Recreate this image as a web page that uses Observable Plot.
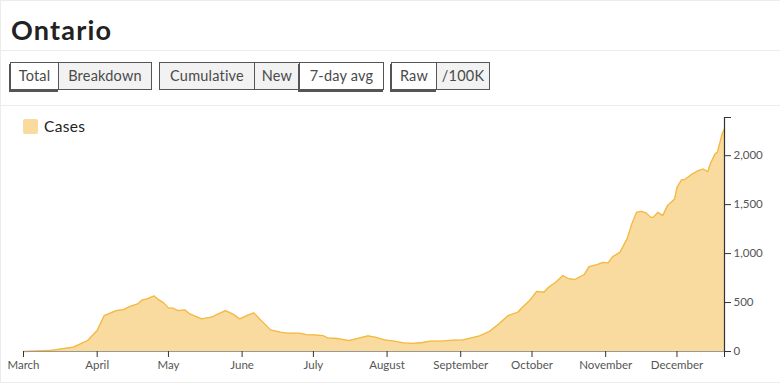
<!DOCTYPE html>
<html>
<head>
<meta charset="utf-8">
<script src="https://cdn.jsdelivr.net/npm/d3@7"></script>
<script src="https://cdn.jsdelivr.net/npm/@observablehq/plot@0.6"></script>
<style>
  html, body { margin: 0; padding: 0; background: #fff; }
  body { width: 780px; height: 385px; overflow: hidden; font-family: Lato, "Open Sans", sans-serif; }
  #card { position: absolute; left: 0; top: 0; width: 790px; height: 383px; border-top: 1px solid #ececec; border-left: 1px solid #ececec; border-bottom: 1px solid #ececec; box-sizing: border-box; }
  #title { position: absolute; left: 11px; top: 13px; font-size: 27px; font-weight: 700; color: #222; letter-spacing: 1.2px; }
  .hr { position: absolute; left: 0; width: 790px; height: 0; border-top: 1px solid #ececec; }
  .btn { position: absolute; top: 62px; height: 28px; box-sizing: border-box; border: 1px solid #555; background: #f2f2f2; color: #4a4a4a; font-size: 14.5px; line-height: 26px; text-align: center; letter-spacing: 0.2px; }
  .btn.sel { background: #fff; box-shadow: -1px 2px 0 #555; height: 28px; }
  #legend { position: absolute; left: 23px; top: 117px; font-size: 15.5px; color: #222; display: flex; align-items: center; letter-spacing: 0.3px; }
  #legend .sw { width: 15px; height: 15px; border-radius: 2px; margin-right: 6px; }
  #chart { position: absolute; left: 0; top: 106px; }
</style>
</head>
<body>
<div id="card"></div>
<div id="title">Ontario</div>
<div class="hr" style="top:50px"></div>
<div class="hr" style="top:105px"></div>
<div id="buttons"></div>
<div id="chart"></div>
<div id="legend"></div>
<script>
// ---- data (7-day average of new cases) ----
const dates = [
  "2020-03-01","2020-03-12","2020-03-22","2020-03-28","2020-04-01","2020-04-04","2020-04-09","2020-04-12",
  "2020-04-15","2020-04-18","2020-04-20","2020-04-22","2020-04-25","2020-04-27","2020-04-29","2020-05-01",
  "2020-05-03","2020-05-05","2020-05-08","2020-05-10","2020-05-15","2020-05-19","2020-05-22","2020-05-25",
  "2020-05-28","2020-05-31","2020-06-03","2020-06-06","2020-06-09","2020-06-13","2020-06-17","2020-06-20",
  "2020-06-25","2020-06-28","2020-07-01","2020-07-05","2020-07-07","2020-07-11","2020-07-16","2020-07-20",
  "2020-07-24","2020-07-27","2020-07-31","2020-08-04","2020-08-08","2020-08-12","2020-08-16","2020-08-19",
  "2020-08-25","2020-08-29","2020-09-02","2020-09-05","2020-09-09","2020-09-13","2020-09-17","2020-09-21",
  "2020-09-25","2020-09-27","2020-09-30","2020-10-03","2020-10-06","2020-10-08","2020-10-11","2020-10-14",
  "2020-10-16","2020-10-19","2020-10-23","2020-10-25","2020-10-28","2020-10-31","2020-11-02","2020-11-04",
  "2020-11-07","2020-11-10","2020-11-12","2020-11-14","2020-11-16","2020-11-18","2020-11-20","2020-11-21",
  "2020-11-23","2020-11-25","2020-11-27","2020-11-30","2020-12-01","2020-12-03","2020-12-04","2020-12-07",
  "2020-12-10","2020-12-12","2020-12-14","2020-12-15","2020-12-17","2020-12-18","2020-12-20","2020-12-21"
];
const cases = [
  0, 10, 45, 112, 214, 367, 418, 428,
  462, 486, 527, 537, 568, 527, 497, 446,
  442, 418, 425, 384, 333, 350, 384, 418,
  384, 333, 367, 395, 316, 221, 197, 187,
  187, 173, 170, 163, 139, 133, 112, 136,
  160, 146, 119, 105, 88, 82, 92, 105,
  109, 116, 119, 136, 160, 204, 282, 367,
  401, 452, 520, 615, 605, 656, 707, 776,
  748, 735, 786, 867, 884, 911, 905, 969,
  1013, 1150, 1303, 1421, 1432, 1415, 1370, 1370,
  1421, 1388, 1490, 1558, 1676, 1755, 1752, 1806,
  1847, 1864, 1837, 1915, 2017, 2034, 2221, 2275
];
const monthLabels = ["March","April","May","June","July","August","September","October","November","December"];
const yTicks = [0, 500, 1000, 1500, 2000];
const seriesName = "Cases";
const yMax = 2390;
const startDate = "2020-03-01";
const endDate = "2020-12-21";

const buttonGroups = [
  [["Total", true, 48], ["Breakdown", false, 93]],
  [["Cumulative", false, 95], ["New", false, 45], ["7-day avg", true, 84]],
  [["Raw", true, 45], ["/100K", false, 53]]
];

// ---- build ----
const fillColor = "#f9da9f";
const strokeColor = "#f4b942";

const data = dates.map((d, i) => ({date: new Date(d + "T00:00:00"), value: cases[i]}));
const t0 = new Date(startDate + "T00:00:00");
const t1 = new Date(endDate + "T00:00:00");
const monthTicks = monthLabels.map((m, i) => new Date(2020, 2 + i, 1));
const xTicks = [...monthTicks, t1];

// buttons
const bdiv = document.getElementById("buttons");
let bx = 10;
buttonGroups.forEach(group => {
  group.forEach(([label, sel, w], j) => {
    const b = document.createElement("div");
    b.className = "btn" + (sel ? " sel" : "");
    b.textContent = label;
    b.style.left = bx + "px";
    b.style.width = (w + 1) + "px";
    bdiv.appendChild(b);
    bx += w;
  });
  bx += 8;
});

// legend
const lg = document.getElementById("legend");
lg.innerHTML = `<div class="sw" style="background:${fillColor}"></div><span>${seriesName}</span>`;

const chart = Plot.plot({
  width: 780,
  height: 277,
  marginLeft: 23,
  marginRight: 56,
  marginTop: 11,
  marginBottom: 32,
  style: {fontFamily: "Lato, 'Open Sans', sans-serif", fontSize: "11.5px", color: "#555", background: "transparent"},
  x: {type: "time", domain: [t0, t1]},
  y: {domain: [0, yMax]},
  marks: [
    Plot.areaY(data, {x: "date", y: "value", fill: fillColor, curve: "linear"}),
    Plot.lineY(data, {x: "date", y: "value", stroke: strokeColor, strokeWidth: 1.3, curve: "linear"}),
    Plot.ruleY([0], {stroke: "#999", strokeWidth: 1.2}),
    Plot.ruleX([t1], {y1: 0, y2: yMax, stroke: "#333", strokeWidth: 1.2}),
    Plot.axisX({ticks: xTicks, tickSize: 6, tickPadding: 3, stroke: "#333",
      tickFormat: d => { const i = monthTicks.findIndex(m => +m === +d); return i >= 0 ? monthLabels[i] : ""; },
      fill: "#555", fontSize: 11.5, label: null}),
    Plot.axisY({anchor: "right", ticks: [...yTicks, yMax], tickSize: 6, tickPadding: 3, stroke: "#333",
      tickFormat: d => d === yMax ? "" : d3.format(",")(d), fill: "#555", fontSize: 11.5, label: null})
  ]
});
document.getElementById("chart").appendChild(chart);
</script>
</body>
</html>
